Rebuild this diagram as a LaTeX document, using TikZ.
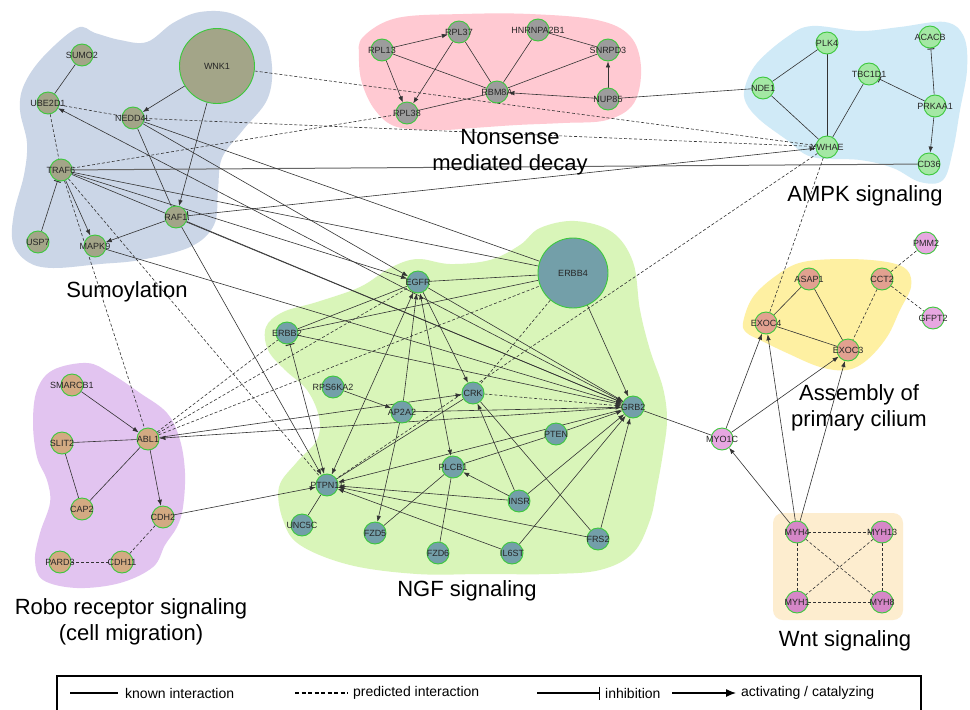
\documentclass[tikz,border=0pt]{standalone}
\usepackage{fontspec}
\setmainfont{Liberation Sans}
\usetikzlibrary{arrows.meta,shapes.geometric}
\pgfdeclarelayer{bg}
\pgfdeclarelayer{mid}
\pgfsetlayers{bg,mid,main}
\definecolor{sumoC}{HTML}{CBD6E7}
\definecolor{nmdC}{HTML}{FFC9D2}
\definecolor{ampkC}{HTML}{D0EAF7}
\definecolor{ngfC}{HTML}{D9F5B9}
\definecolor{roboC}{HTML}{E2C4F0}
\definecolor{ciliaC}{HTML}{FEF0A2}
\definecolor{wntC}{HTML}{FDEDCF}
\definecolor{sumoN}{HTML}{A3A588}
\definecolor{nmdN}{HTML}{9C9C9C}
\definecolor{ampkN}{HTML}{A4E8A4}
\definecolor{ngfN}{HTML}{739FA9}
\definecolor{roboN}{HTML}{D3AA82}
\definecolor{ciliaN}{HTML}{E2A190}
\definecolor{pinkN}{HTML}{E7A7E1}
\definecolor{wntN}{HTML}{D687C8}
\definecolor{ringC}{HTML}{3CC83C}
\definecolor{edgeC}{HTML}{333333}
\tikzset{
  gnode/.style={circle, draw=ringC, line width=0.9pt, minimum size=22pt, inner sep=0pt},
  lab/.style={font=\fontsize{9}{10}\selectfont, text=black!85, inner sep=0pt},
  edg/.style={draw=edgeC, line width=0.6pt},
  act/.style={edg, -{Latex[length=6pt,width=4.5pt]}},
  inh/.style={edg, -{Bar[width=7pt,line width=1pt]}},
  pred/.style={edg, dash pattern=on 3pt off 2pt},
  grp/.style={font=\fontsize{22}{26}\selectfont, align=center, text=black},
  leg/.style={font=\fontsize{14}{16}\selectfont, anchor=west, inner sep=0pt},
}
\newcommand\mynode[4]{\node[gnode, fill=#4, label={[lab]center:#3}] (#1) at (#2) {};}
\begin{document}
\begin{tikzpicture}[x=1pt, y=-1pt]
\useasboundingbox (0,0) rectangle (970,710);
\begin{pgfonlayer}{bg}
\fill[white] (0,0) rectangle (970,710);
\fill[sumoC] plot[smooth cycle, tension=0.6] coordinates {(77,28) (95,33) (120,40) (147,42) (173,23) (200,12) (233,14) (263,35) (272,67) (267,100) (243,130) (222,158) (218,190) (214,225) (190,247) (140,260) (100,264) (53,268) (28,262) (13,243) (14,213) (24,175) (27,143) (20,110) (24,85) (43,57)};
\fill[nmdC] plot[smooth cycle, tension=0.6] coordinates {(363,37) (397,18) (463,14) (530,14) (597,20) (630,36) (641,67) (634,103) (607,120) (563,123) (517,125) (473,128) (440,130) (397,127) (375,110) (362,83) (359,57)};
\fill[ampkC] plot[smooth cycle, tension=0.6] coordinates {(745,87) (757,63) (787,37) (812,26) (860,31) (900,27) (945,22) (964,37) (967,70) (960,110) (953,150) (943,180) (920,182) (893,168) (860,160) (812,157) (787,140) (760,120) (746,103)};
\fill[ngfC] plot[smooth cycle, tension=0.6] coordinates {(540,228) (575,221) (612,232) (633,262) (640,310) (650,350) (663,388) (667,420) (663,453) (657,487) (650,520) (633,553) (600,570) (550,574) (483,574) (417,574) (350,565) (300,545) (283,520) (279,487) (297,462) (317,440) (319,417) (307,390) (285,370) (268,350) (266,327) (283,312) (317,302) (360,287) (390,268) (417,259) (450,264) (490,260) (520,245)};
\fill[roboC] plot[smooth cycle, tension=0.6] coordinates {(53,370) (87,363) (110,373) (140,393) (167,413) (180,440) (185,473) (183,507) (177,527) (165,545) (153,567) (120,583) (77,588) (43,580) (35,560) (40,533) (50,503) (47,480) (37,457) (33,423) (37,390)};
\fill[ciliaC] plot[smooth cycle, tension=0.6] coordinates {(743,323) (753,297) (777,275) (803,262) (847,259) (887,262) (907,270) (911,287) (900,310) (887,337) (867,360) (847,370) (820,367) (787,353) (760,340) (747,333)};
\fill[wntC, rounded corners=10pt] (773,513) rectangle (903,620);
\end{pgfonlayer}

% Sumoylation
\mynode{SUMO2}{82,55}{SUMO2}{sumoN}
\mynode{UBE2D1}{48,103}{UBE2D1}{sumoN}
\node[gnode, minimum size=75pt, fill=sumoN, label={[lab]center:WNK1}] (WNK1) at (217,66) {};
\mynode{NEDD4L}{133,118}{NEDD4L}{sumoN}
\mynode{TRAF6}{61,170}{TRAF6}{sumoN}
\mynode{RAF1}{176,217}{RAF1}{sumoN}
\mynode{USP7}{38,242}{USP7}{sumoN}
\mynode{MAPK9}{95,246}{MAPK9}{sumoN}
% NMD
\mynode{RPL13}{382,50}{RPL13}{nmdN}
\mynode{RPL37}{459,32}{RPL37}{nmdN}
\mynode{HNRNPA2B1}{538,30}{HNRNPA2B1}{nmdN}
\mynode{SNRPD3}{608,50}{SNRPD3}{nmdN}
\mynode{RBM8A}{497,92}{RBM8A}{nmdN}
\mynode{NUP85}{608,99}{NUP85}{nmdN}
\mynode{RPL38}{407,113}{RPL38}{nmdN}
% AMPK
\mynode{PLK4}{827,43}{PLK4}{ampkN}
\mynode{ACACB}{930,37}{ACACB}{ampkN}
\mynode{TBC1D1}{869,74}{TBC1D1}{ampkN}
\mynode{NDE1}{763,88}{NDE1}{ampkN}
\mynode{PRKAA1}{935,106}{PRKAA1}{ampkN}
\mynode{YWHAE}{827,147}{YWHAE}{ampkN}
\mynode{CD36}{929,164}{CD36}{ampkN}
% NGF
\mynode{EGFR}{418,282}{EGFR}{ngfN}
\node[gnode, minimum size=70pt, fill=ngfN, label={[lab]center:ERBB4}] (ERBB4) at (573,273) {};
\mynode{ERBB2}{287,333}{ERBB2}{ngfN}
\mynode{RPS6KA2}{333,387}{RPS6KA2}{ngfN}
\mynode{CRK}{473,393}{CRK}{ngfN}
\mynode{AP2A2}{402,412}{AP2A2}{ngfN}
\mynode{GRB2}{633,407}{GRB2}{ngfN}
\mynode{PTEN}{556,434}{PTEN}{ngfN}
\mynode{PLCB1}{453,467}{PLCB1}{ngfN}
\mynode{PTPN11}{327,485}{PTPN11}{ngfN}
\mynode{INSR}{519,501}{INSR}{ngfN}
\mynode{UNC5C}{302,525}{UNC5C}{ngfN}
\mynode{FZD5}{375,533}{FZD5}{ngfN}
\mynode{FZD6}{438,553}{FZD6}{ngfN}
\mynode{IL6ST}{512,553}{IL6ST}{ngfN}
\mynode{FRS2}{598,539}{FRS2}{ngfN}
% Robo
\mynode{SMARCB1}{72,385}{SMARCB1}{roboN}
\mynode{ABL1}{148,439}{ABL1}{roboN}
\mynode{SLIT2}{62,443}{SLIT2}{roboN}
\mynode{CAP2}{82,509}{CAP2}{roboN}
\mynode{CDH2}{163,517}{CDH2}{roboN}
\mynode{PARD3}{60,562}{PARD3}{roboN}
\mynode{CDH11}{122,562}{CDH11}{roboN}
% Cilium
\mynode{PMM2}{926,243}{PMM2}{pinkN}
\mynode{ASAP1}{809,279}{ASAP1}{ciliaN}
\mynode{CCT2}{882,279}{CCT2}{ciliaN}
\mynode{GFPT2}{933,318}{GFPT2}{pinkN}
\mynode{EXOC4}{766,323}{EXOC4}{ciliaN}
\mynode{EXOC3}{848,350}{EXOC3}{ciliaN}
\mynode{MYO1C}{722,439}{MYO1C}{pinkN}
% Wnt
\mynode{MYH4}{797,532}{MYH4}{wntN}
\mynode{MYH13}{882,532}{MYH13}{wntN}
\mynode{MYH1}{797,602}{MYH1}{wntN}
\mynode{MYH8}{882,602}{MYH8}{wntN}

\begin{pgfonlayer}{mid}
% Sumoylation internal
\draw[edg] (SUMO2) -- (UBE2D1);
\draw[pred] (UBE2D1) -- (NEDD4L);
\draw[pred] (UBE2D1) -- (TRAF6);
\draw[act] (WNK1) -- (NEDD4L);
\draw[act] (WNK1) -- (RAF1);
\draw[edg] (NEDD4L) -- (RAF1);
\draw[inh] (USP7) -- (TRAF6);
\draw[act] (TRAF6) -- (MAPK9);
\draw[act] (RAF1) -- (MAPK9);
% long range
\draw[pred] (WNK1) -- (YWHAE);
\draw[pred] (NEDD4L) -- (YWHAE);
\draw[pred] (TRAF6) -- (RPL38);
\draw[edg, draw=black!60, line width=1pt] (TRAF6) -- (CD36);
\draw[edg, {Bar[width=9pt,line width=1pt]}-{Latex[length=6pt,width=4.5pt]}] (RAF1) -- (YWHAE);
\draw[edg] (TRAF6) -- (ERBB4);
\draw[act] (TRAF6) -- (EGFR);
\draw[act] (TRAF6) -- (GRB2);
\draw[pred] (TRAF6) -- (ABL1);
\draw[pred] (TRAF6) -- (PTPN11);
\draw[edg] (NEDD4L) -- (ERBB4);
\draw[act] (NEDD4L) -- (EGFR);
\draw[act] (GRB2) -- (UBE2D1);
\draw[act] (RAF1) -- (GRB2);
\draw[act] (RAF1) -- (PTPN11);
\draw[act] (MAPK9) -- (GRB2);
% NMD
\draw[act] (RPL13) -- (RPL37);
\draw[act] (RPL13) -- (RPL38);
\draw[act] (RPL37) -- (RPL38);
\draw[edg] (RPL13) -- (RBM8A);
\draw[edg] (RPL37) -- (RBM8A);
\draw[edg] (HNRNPA2B1) -- (RBM8A);
\draw[edg] (HNRNPA2B1) -- (SNRPD3);
\draw[edg] (SNRPD3) -- (RBM8A);
\draw[edg] (RPL38) -- (RBM8A);
\draw[act] (NUP85) -- (SNRPD3);
\draw[act] (NUP85) -- (RBM8A);
\draw[edg] (NDE1) -- (NUP85);
% AMPK
\draw[edg] (NDE1) -- (PLK4);
\draw[edg] (NDE1) -- (YWHAE);
\draw[edg] (PLK4) -- (YWHAE);
\draw[edg] (TBC1D1) -- (YWHAE);
\draw[inh] (PRKAA1) -- (TBC1D1);
\draw[inh] (PRKAA1) -- (ACACB);
\draw[act] (PRKAA1) -- (CD36);
\draw[pred] (YWHAE) -- (PTPN11);
\draw[pred] (YWHAE) -- (EXOC4);
% Robo
\draw[act] (SMARCB1) -- (ABL1);
\draw[edg] (SLIT2) -- (ABL1);
\draw[edg] (SLIT2) -- (CAP2);
\draw[edg] (ABL1) -- (CAP2);
\draw[act] (ABL1) -- (CDH2);
\draw[pred] (CDH2) -- (CDH11);
\draw[pred] (PARD3) -- (CDH11);
\draw[act] (CDH2) -- (PTPN11);
\draw[pred] (ABL1) -- (ERBB2);
\draw[pred] (ABL1) -- (EGFR);
\draw[pred] (ABL1) -- (ERBB4);
\draw[act] (ABL1) -- (CRK);
\draw[act] (GRB2) -- (ABL1);
% NGF
\draw[edg] (EGFR) -- (ERBB4);
\draw[edg] (EGFR) -- (ERBB2);
\draw[edg] (ERBB2) -- (ERBB4);
\draw[act] (EGFR) -- (CRK);
\draw[edg, {Latex[length=6pt,width=4.5pt]}-{Latex[length=6pt,width=4.5pt]}] (EGFR) -- (PLCB1);
\draw[act] (EGFR) -- (GRB2);
\draw[edg, {Latex[length=6pt,width=4.5pt]}-{Latex[length=6pt,width=4.5pt]}] (EGFR) -- (PTPN11);
\draw[act] (AP2A2) -- (EGFR);
\draw[act] (AP2A2) -- (FZD5);
\draw[act] (RPS6KA2) -- (AP2A2);
\draw[act] (AP2A2) -- (GRB2);
\draw[pred, -{Latex[length=6pt,width=4.5pt]}] (CRK) -- (GRB2);
\draw[edg] (CRK) -- (PTPN11);
\draw[edg] (CRK) -- (FRS2);
\draw[act] (INSR) -- (CRK);
\draw[act] (INSR) -- (PLCB1);
\draw[act] (INSR) -- (PTPN11);
\draw[act] (INSR) -- (GRB2);
\draw[act] (GRB2) -- (PTPN11);
\draw[act] (PTEN) -- (GRB2);
\draw[edg] (PTEN) -- (PLCB1);
\draw[edg] (PLCB1) -- (FZD5);
\draw[edg] (PLCB1) -- (FZD6);
\draw[edg] (PTPN11) -- (UNC5C);
\draw[act] (IL6ST) -- (PTPN11);
\draw[act] (FRS2) -- (PTPN11);
\draw[act] (IL6ST) -- (GRB2);
\draw[act] (FRS2) -- (GRB2);
\draw[act] (ERBB4) -- (GRB2);
\draw[act] (ERBB2) -- (GRB2);
\draw[edg, {Bar[width=9pt,line width=1pt]}-{Latex[length=6pt,width=4.5pt]}] (ERBB2) -- (PTPN11);
\draw[pred] (ERBB4) -- (CRK);
\draw[edg] (GRB2) -- (MYO1C);
% Cilium
\draw[edg] (ASAP1) -- (EXOC4);
\draw[edg] (ASAP1) -- (EXOC3);
\draw[edg] (EXOC4) -- (EXOC3);
\draw[pred] (CCT2) -- (EXOC3);
\draw[pred] (CCT2) -- (PMM2);
\draw[pred] (CCT2) -- (GFPT2);
\draw[act] (MYO1C) -- (EXOC4);
\draw[act] (MYO1C) -- (EXOC3);
\draw[act] (MYH4) -- (MYO1C);
\draw[act] (MYH4) -- (EXOC4);
\draw[act] (MYH4) -- (EXOC3);
% Wnt
\draw[pred] (MYH4) -- (MYH13);
\draw[pred] (MYH4) -- (MYH1);
\draw[pred] (MYH4) -- (MYH8);
\draw[pred] (MYH13) -- (MYH1);
\draw[pred] (MYH13) -- (MYH8);
\draw[pred] (MYH1) -- (MYH8);
\end{pgfonlayer}

% group labels
\node[grp] (lSumo) at (127,292) {Sumoylation};
\node[grp] (lNmd) at (510,152) {Nonsense\\mediated decay};
\node[grp] (lAmpk) at (865,196) {AMPK signaling};
\node[grp] (lNgf) at (467,591) {NGF signaling};
\node[grp] (lRobo) at (131,622) {Robo receptor signaling\\(cell migration)};
\node[grp] (lCil) at (859,408) {Assembly of\\primary cilium};
\node[grp] (lWnt) at (845,641) {Wnt signaling};

% legend
\draw[line width=1.3pt] (57,716) -- (57,676) -- (921,676) -- (921,716);
\coordinate (k1) at (70,693); \coordinate (k2) at (118,693);
\coordinate (p1) at (295,693); \coordinate (p2) at (348,693);
\coordinate (i1) at (537,693); \coordinate (i2) at (600,693);
\coordinate (a1) at (672,693); \coordinate (a2) at (736,693);
\draw[line width=1.2pt] (k1) -- (k2);
\draw[line width=1.2pt, dash pattern=on 4pt off 2.5pt] (p1) -- (p2);
\draw[line width=1.2pt, -{Bar[width=13pt,line width=1.3pt]}] (i1) -- (i2);
\draw[line width=1.2pt, -{Latex[length=10pt,width=8pt]}] (a1) -- (a2);
\node[leg] (t1) at (125,693) {known interaction};
\node[leg] (t2) at (353,693) {predicted interaction};
\node[leg] (t3) at (605,693) {inhibition};
\node[leg] (t4) at (741,693) {activating / catalyzing};
\end{tikzpicture}
\end{document}
